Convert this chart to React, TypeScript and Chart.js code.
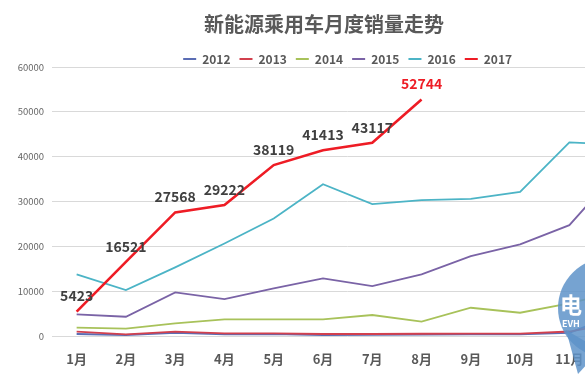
import React, { useEffect, useRef } from "react";
import { Chart, registerables } from "chart.js";

Chart.register(...registerables);

const TITLE = "新能源乘用车月度销量走势";
const MONTHS = ["1月", "2月", "3月", "4月", "5月", "6月", "7月", "8月", "9月", "10月", "11月", "12月"];
const YEARS = ["2012", "2013", "2014", "2015", "2016", "2017"];

const S2012 = [450, 220, 730, 380, 450, 220, 250, 300, 350, 350, 700, 5000];
const S2013 = [960, 380, 960, 600, 600, 450, 450, 500, 550, 550, 1000, 3000];
const S2014 = [1850, 1630, 2830, 3720, 3720, 3720, 4680, 3190, 6300, 5190, 7300, 10000];
const S2015 = [4830, 4300, 9730, 8240, 10620, 12850, 11140, 13740, 17820, 20420, 24720, 37000];
const S2016 = [13740, 10240, 15300, 20640, 26210, 33850, 29400, 30290, 30580, 32140, 43200, 42700];
const S2017 = [5423, 16521, 27568, 29222, 38119, 41413, 43117, 52744];

const SERIES = [S2012, S2013, S2014, S2015, S2016, S2017];
const COLORS = ["#5b6db4", "#d2404e", "#a8c25a", "#7a63a6", "#4cb4c6", "#ee1c25"];
const WIDTHS = [1.8, 1.8, 1.8, 1.8, 1.8, 2.6];

const Y_MAX = 60000;
const Y_STEP = 10000;

const FONT = '"Noto Sans CJK SC", "Noto Sans", sans-serif';

const valueLabels = {
  id: "valueLabels",
  afterDatasetsDraw(chart: any) {
    const idx = SERIES.length - 1;
    const meta = chart.getDatasetMeta(idx);
    const ctx = chart.ctx;
    ctx.save();
    ctx.font = `bold 14px ${FONT}`;
    ctx.textAlign = "center";
    ctx.textBaseline = "middle";
    meta.data.forEach((pt: any, i: number) => {
      const v = S2017[i];
      if (v == null) return;
      ctx.fillStyle = i === S2017.length - 1 ? "#ee1c25" : "#404040";
      ctx.fillText(String(v), pt.x, pt.y - 15.5);
    });
    ctx.restore();
  },
};

const watermark = {
  id: "watermark",
  afterDraw(chart: any) {
    const ctx = chart.ctx;
    ctx.save();
    ctx.globalAlpha = 0.85;
    ctx.fillStyle = "#5e93c9";
    ctx.beginPath();
    ctx.arc(608, 308, 50, 0, Math.PI * 2);
    ctx.fill();
    ctx.beginPath();
    ctx.moveTo(566, 330);
    ctx.lineTo(578, 374);
    ctx.lineTo(600, 350);
    ctx.closePath();
    ctx.fill();
    ctx.globalAlpha = 1;
    ctx.fillStyle = "#ffffff";
    ctx.textAlign = "left";
    ctx.textBaseline = "middle";
    ctx.font = `bold 22px ${FONT}`;
    ctx.fillText("电", 560, 305);
    ctx.font = `bold 9px ${FONT}`;
    ctx.fillText("EVH", 562, 324);
    ctx.restore();
  },
};

export default function App() {
  const ref = useRef<HTMLCanvasElement | null>(null);

  useEffect(() => {
    if (!ref.current) return;
    Chart.defaults.font.family = FONT;
    const chart = new Chart(ref.current, {
      type: "line",
      data: {
        labels: MONTHS,
        datasets: YEARS.map((y, i) => ({
          label: y,
          data: SERIES[i],
          borderColor: COLORS[i],
          backgroundColor: COLORS[i],
          borderWidth: WIDTHS[i],
          pointRadius: 0,
          tension: 0,
          fill: false,
          order: SERIES.length - i,
        })),
      },
      options: {
        animation: false,
        responsive: false,
        layout: { padding: 0 },
        plugins: {
          title: {
            display: true,
            text: TITLE,
            color: "#595959",
            font: { size: 20, weight: "bold", family: FONT },
            padding: { top: 12, bottom: 8 },
          },
          legend: {
            display: true,
            position: "top",
            fullSize: false,
            maxHeight: 23,
            labels: {
              color: "#595959",
              font: { size: 12, weight: "bold", family: FONT },
              boxWidth: 13,
              boxHeight: 2,
              padding: 9,
              generateLabels: (chart: any) =>
                chart.data.datasets.map((ds: any, i: number) => ({
                  text: ds.label,
                  fillStyle: ds.borderColor,
                  strokeStyle: ds.borderColor,
                  lineWidth: 0,
                  hidden: false,
                  datasetIndex: i,
                  fontColor: "#595959",
                })),
            },
          },
          tooltip: { enabled: false },
        },
        scales: {
          x: {
            type: "category",
            offset: true,
            grid: { display: false, drawTicks: false },
            border: { display: false },
            ticks: {
              color: "#595959",
              font: { size: 13, weight: "bold", family: FONT },
              padding: 15,
              maxRotation: 0,
              autoSkip: false,
            },
            afterFit: (s: any) => {
              s.height = 38;
            },
          },
          y: {
            min: 0,
            max: Y_MAX,
            grid: { color: "#d9d9d9", lineWidth: 1, drawTicks: false },
            border: { display: false },
            ticks: {
              stepSize: Y_STEP,
              color: "#666666",
              font: { size: 9.5, family: FONT },
              padding: 8,
              callback: (v: any) => String(v),
            },
            afterFit: (s: any) => {
              s.width = 52;
            },
          },
        },
      },
      plugins: [valueLabels, watermark],
    });
    return () => chart.destroy();
  }, []);

  return (
    <div
      style={{
        position: "fixed",
        left: 0,
        top: 0,
        width: 585,
        height: 374,
        overflow: "hidden",
        background: "#ffffff",
      }}
    >
      <canvas ref={ref} width={648} height={374} style={{ display: "block" }} />
    </div>
  );
}
